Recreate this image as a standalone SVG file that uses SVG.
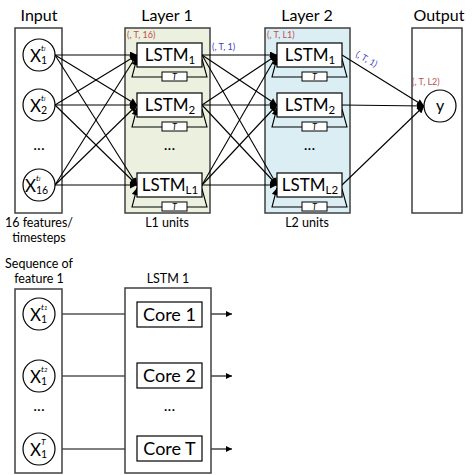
<svg xmlns="http://www.w3.org/2000/svg" width="474" height="475" viewBox="0 0 474 475">
<defs>
<marker id="ah" viewBox="0 0 10 10" refX="10" refY="5" markerWidth="9" markerHeight="7" markerUnits="userSpaceOnUse" orient="auto"><path d="M0,0 L10,5 L0,10 z" fill="#000"/></marker>
<marker id="ah2" viewBox="0 0 10 10" refX="10" refY="5" markerWidth="8" markerHeight="6" markerUnits="userSpaceOnUse" orient="auto"><path d="M0,0 L10,5 L0,10 z" fill="#000"/></marker>
<style>
text{font-family:Lato,"Liberation Sans",sans-serif;fill:#000}
.frame{fill:#fff;stroke:#404040;stroke-width:1.5}
.l1{fill:#ebf1de;stroke:#404040;stroke-width:1.5}
.l2{fill:#daeef3;stroke:#404040;stroke-width:1.5}
.box{fill:#fff;stroke:#000;stroke-width:1.2}
.tbox{fill:#fff;stroke:#000;stroke-width:1}
.circ{fill:#fff;stroke:#000;stroke-width:1.2}
.hdr{font-size:16px;text-anchor:middle}
.lbl{font-size:12.5px;text-anchor:middle}
.big{font-size:16px;text-anchor:middle}
.lstm{font-size:17px;text-anchor:middle}
.core{font-size:18px;text-anchor:middle}
.red{font-size:9px;fill:#c0504d}
.blue{font-size:9px;fill:#4040c8}
.tt{font-size:9px;font-style:italic;text-anchor:middle}
.x{font-size:17px}
.sup{font-size:8.5px;font-style:italic}
.sub{font-size:10.5px}
.conn line,.conn path{stroke:#000;stroke-width:1.1;fill:none}
.arr{marker-end:url(#ah)}
.arr2{marker-end:url(#ah2)}
</style>
</defs>

<!-- headers -->
<text class="hdr" x="39" y="21">Input</text>
<text class="hdr" x="167" y="21">Layer 1</text>
<text class="hdr" x="307" y="21">Layer 2</text>
<text class="hdr" x="439" y="21">Output</text>

<!-- frames -->
<g id="input-frame"><rect class="frame" x="15" y="28" width="47" height="185"/></g>
<g id="layer1-frame"><rect class="l1" x="125" y="28" width="85" height="185"/></g>
<g id="layer2-frame"><rect class="l2" x="265" y="28" width="85" height="185"/></g>
<g id="output-frame"><rect class="frame" x="412" y="28" width="50" height="185"/></g>

<text class="lbl" x="39" y="227">16 features/</text>
<text class="lbl" x="39" y="242">timesteps</text>
<text class="lbl" x="167" y="227">L1 units</text>
<text class="lbl" x="307" y="227">L2 units</text>

<text class="red" x="127" y="38">(, T, 16)</text>
<text class="red" x="267" y="38">(, T, L1)</text>
<text class="red" x="412" y="85">(, T, L2)</text>
<text class="blue" x="212" y="50">(, T, 1)</text>
<text class="blue" x="366" y="62" text-anchor="middle" transform="rotate(30 366 60)">(, T, 1)</text>

<!-- connectors -->
<g id="connectors" class="conn">
<line class="arr" x1="55" y1="55" x2="137" y2="55"/>
<line class="arr" x1="55" y1="55" x2="137" y2="105"/>
<line class="arr" x1="55" y1="55" x2="137" y2="185"/>
<line class="arr" x1="55" y1="105" x2="137" y2="55"/>
<line class="arr" x1="55" y1="105" x2="137" y2="105"/>
<line class="arr" x1="55" y1="105" x2="137" y2="185"/>
<line class="arr" x1="55" y1="185" x2="137" y2="55"/>
<line class="arr" x1="55" y1="185" x2="137" y2="105"/>
<line class="arr" x1="55" y1="185" x2="137" y2="185"/>

<line class="arr" x1="202" y1="55" x2="277" y2="55"/>
<line class="arr" x1="202" y1="55" x2="277" y2="105"/>
<line class="arr" x1="202" y1="55" x2="277" y2="185"/>
<line class="arr" x1="202" y1="105" x2="277" y2="55"/>
<line class="arr" x1="202" y1="105" x2="277" y2="105"/>
<line class="arr" x1="202" y1="105" x2="277" y2="185"/>
<line class="arr" x1="202" y1="185" x2="277" y2="55"/>
<line class="arr" x1="202" y1="185" x2="277" y2="105"/>
<line class="arr" x1="202" y1="185" x2="277" y2="185"/>

<line class="arr" x1="342" y1="55" x2="424" y2="106"/>
<line class="arr" x1="342" y1="105" x2="424" y2="106"/>
<line class="arr" x1="342" y1="185" x2="424" y2="106"/>

<!-- recurrent loops -->
<path d="M202,59 L207,77 L187,77"/><path class="arr" d="M162,77 L132,77 L137,58"/>
<path d="M202,109 L207,127 L187,127"/><path class="arr" d="M162,127 L132,127 L137,108"/>
<path d="M202,189 L207,207 L187,207"/><path class="arr" d="M162,207 L132,207 L137,188"/>
<path d="M342,59 L347,77 L327,77"/><path class="arr" d="M302,77 L272,77 L277,58"/>
<path d="M342,109 L347,127 L327,127"/><path class="arr" d="M302,127 L272,127 L277,108"/>
<path d="M342,189 L347,207 L327,207"/><path class="arr" d="M302,207 L272,207 L277,188"/>

<!-- bottom -->
<line class="arr2" x1="55" y1="314" x2="137" y2="314"/>
<line class="arr2" x1="55" y1="376" x2="137" y2="376"/>
<line class="arr2" x1="55" y1="449" x2="137" y2="449"/>
<line class="arr2" x1="202" y1="314" x2="232" y2="314"/>
<line class="arr2" x1="202" y1="376" x2="232" y2="376"/>
<line class="arr2" x1="202" y1="449" x2="232" y2="449"/>
<line class="arr2" x1="169.5" y1="327" x2="169.5" y2="363"/>
<line class="arr2" x1="169.5" y1="389" x2="169.5" y2="399"/>
<line class="arr2" x1="169.5" y1="422" x2="169.5" y2="436"/>
</g>

<!-- input nodes -->
<g id="x1"><circle class="circ" cx="39" cy="55" r="16"/>
<text class="x" x="30" y="62">X</text><text class="sup" x="41" y="51">t<tspan font-size="6">i</tspan></text><text class="sub" x="41" y="64">1</text></g>
<g id="x2"><circle class="circ" cx="39" cy="105" r="16"/>
<text class="x" x="30" y="112">X</text><text class="sup" x="41" y="101">t<tspan font-size="6">i</tspan></text><text class="sub" x="41" y="114">2</text></g>
<text class="big" x="39" y="150">...</text>
<g id="x16"><circle class="circ" cx="39" cy="185" r="16"/>
<text class="x" x="25" y="192">X</text><text class="sup" x="36" y="181">t<tspan font-size="6">i</tspan></text><text class="sub" x="36" y="194">16</text></g>

<!-- layer 1 -->
<g id="l1-lstm1"><rect class="box" x="137" y="43" width="65" height="24"/><text class="lstm" x="170" y="61">LSTM<tspan font-size="11.5" dy="3">1</tspan></text>
<rect class="tbox" x="162" y="72" width="25" height="9"/><text class="tt" x="174.5" y="80">T</text></g>
<g id="l1-lstm2"><rect class="box" x="137" y="93" width="65" height="24"/><text class="lstm" x="170" y="111">LSTM<tspan font-size="11.5" dy="3">2</tspan></text>
<rect class="tbox" x="162" y="122" width="25" height="9"/><text class="tt" x="174.5" y="130">T</text></g>
<text class="big" x="169.5" y="150">...</text>
<g id="l1-lstmL1"><rect class="box" x="137" y="173" width="65" height="24"/><text class="lstm" x="170" y="191">LSTM<tspan font-size="11.5" dy="3">L1</tspan></text>
<rect class="tbox" x="162" y="202" width="25" height="9"/><text class="tt" x="174.5" y="210">T</text></g>

<!-- layer 2 -->
<g id="l2-lstm1"><rect class="box" x="277" y="43" width="65" height="24"/><text class="lstm" x="310" y="61">LSTM<tspan font-size="11.5" dy="3">1</tspan></text>
<rect class="tbox" x="302" y="72" width="25" height="9"/><text class="tt" x="314.5" y="80">T</text></g>
<g id="l2-lstm2"><rect class="box" x="277" y="93" width="65" height="24"/><text class="lstm" x="310" y="111">LSTM<tspan font-size="11.5" dy="3">2</tspan></text>
<rect class="tbox" x="302" y="122" width="25" height="9"/><text class="tt" x="314.5" y="130">T</text></g>
<text class="big" x="309.5" y="150">...</text>
<g id="l2-lstmL2"><rect class="box" x="277" y="173" width="65" height="24"/><text class="lstm" x="310" y="191">LSTM<tspan font-size="11.5" dy="3">L2</tspan></text>
<rect class="tbox" x="302" y="202" width="25" height="9"/><text class="tt" x="314.5" y="210">T</text></g>

<!-- output -->
<g id="y"><circle class="circ" cx="440" cy="106" r="16"/><text class="big" x="440" y="111" font-size="17px">y</text></g>

<!-- bottom part -->
<text class="lbl" x="39" y="268">Sequence of</text>
<text class="lbl" x="39" y="283">feature 1</text>
<text class="lbl" x="168" y="283" font-size="12px">LSTM 1</text>
<g id="seq-frame"><rect class="frame" x="15" y="289" width="47" height="184"/></g>
<g id="lstm1-frame"><rect class="frame" x="125" y="288" width="86" height="185"/></g>

<g id="s1"><circle class="circ" cx="39" cy="314" r="16"/>
<text class="x" x="30" y="321">X</text><text class="sup" x="41" y="310">t<tspan font-size="6">1</tspan></text><text class="sub" x="41" y="323">1</text></g>
<g id="s2"><circle class="circ" cx="39" cy="376" r="16"/>
<text class="x" x="30" y="383">X</text><text class="sup" x="41" y="372">t<tspan font-size="6">2</tspan></text><text class="sub" x="41" y="385">1</text></g>
<text class="big" x="39" y="411">...</text>
<g id="sT"><circle class="circ" cx="39" cy="449" r="16"/>
<text class="x" x="30" y="456">X</text><text class="sup" x="41" y="445">T</text><text class="sub" x="41" y="458">1</text></g>

<g id="core1"><rect class="box" x="137" y="302" width="65" height="25"/><text class="core" x="169.5" y="321">Core 1</text></g>
<g id="core2"><rect class="box" x="137" y="363" width="65" height="25"/><text class="core" x="169.5" y="382">Core 2</text></g>
<text class="big" x="169.5" y="411">...</text>
<g id="coreT"><rect class="box" x="137" y="436" width="65" height="25"/><text class="core" x="169.5" y="455">Core T</text></g>
</svg>
